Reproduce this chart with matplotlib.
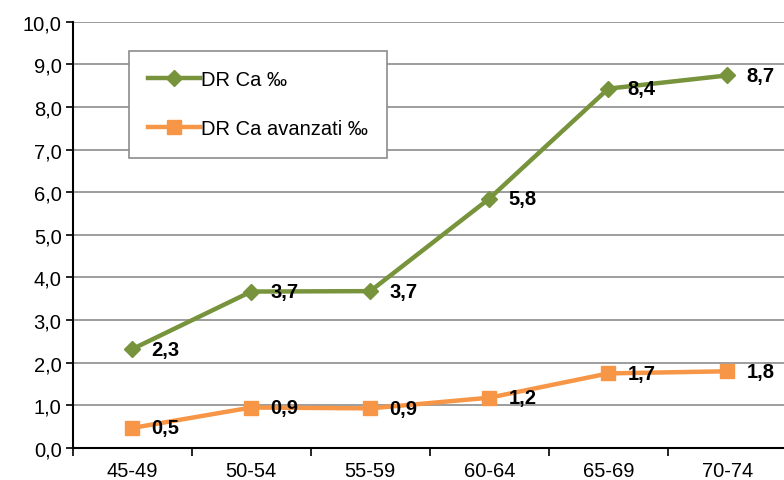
import matplotlib.pyplot as plt
import numpy as np

plt.rcParams['font.family'] = ['Liberation Sans', 'DejaVu Sans']

# data
categories = ['45-49', '50-54', '55-59', '60-64', '65-69', '70-74']
dr_ca = [2.32, 3.67, 3.68, 5.85, 8.43, 8.74]
dr_ca_lbl = ['2,3', '3,7', '3,7', '5,8', '8,4', '8,7']
dr_av = [0.47, 0.95, 0.93, 1.18, 1.75, 1.80]
dr_av_lbl = ['0,5', '0,9', '0,9', '1,2', '1,7', '1,8']

green = '#77933C'
orange = '#F79646'

fig = plt.figure(figsize=(7.84, 4.81), dpi=100)
ax = fig.add_axes([0.0927, 0.0665, 0.911, 0.8863])

x = np.arange(len(categories))
ax.plot(x, dr_ca, color=green, lw=3.2, marker='D', ms=8, label='DR Ca ‰', zorder=3)
ax.plot(x, dr_av, color=orange, lw=3.2, marker='s', ms=10, label='DR Ca avanzati ‰', zorder=3)

# etichette valori
for xi, v, t in zip(x, dr_ca, dr_ca_lbl):
    ax.annotate(t, (xi, v), xytext=(14, 0), textcoords='offset points',
                va='center', ha='left', fontsize=14.5, fontweight='bold', zorder=4)
for xi, v, t in zip(x, dr_av, dr_av_lbl):
    ax.annotate(t, (xi, v), xytext=(14, 0), textcoords='offset points',
                va='center', ha='left', fontsize=14.5, fontweight='bold', zorder=4)

ax.set_xlim(-0.5, 5.5)
ax.set_ylim(0, 10)
ax.set_yticks(np.arange(0, 11, 1))
ax.set_yticklabels([f'{v:.1f}'.replace('.', ',') for v in range(0, 11)], fontsize=14.5)
ax.set_xticks(x)
ax.set_xticklabels(categories, fontsize=14.5)
ax.set_xticks(np.arange(-0.5, 6, 1), minor=True)
ax.tick_params(axis='x', which='major', length=0, pad=9)
ax.tick_params(axis='x', which='minor', length=6, width=1.2, color='black')
ax.tick_params(axis='y', length=5, width=1.2, color='black', pad=3)

ax.yaxis.grid(True, color='#8c8c8c', lw=1.2)
ax.set_axisbelow(True)
for s in ['top', 'right']:
    ax.spines[s].set_visible(False)
for s in ['left', 'bottom']:
    ax.spines[s].set_linewidth(1.5)
ax.spines['bottom'].set_zorder(5)

leg = ax.legend(loc='upper left', bbox_to_anchor=(0.0788, 0.931), fontsize=14.5,
                frameon=True, fancybox=False, edgecolor='#8c8c8c', framealpha=1,
                handlelength=2.6, handletextpad=0.05, labelspacing=1.5,
                borderpad=0.95, borderaxespad=0)
leg.get_frame().set_linewidth(1.2)

fig.savefig('out.png', dpi=100)
